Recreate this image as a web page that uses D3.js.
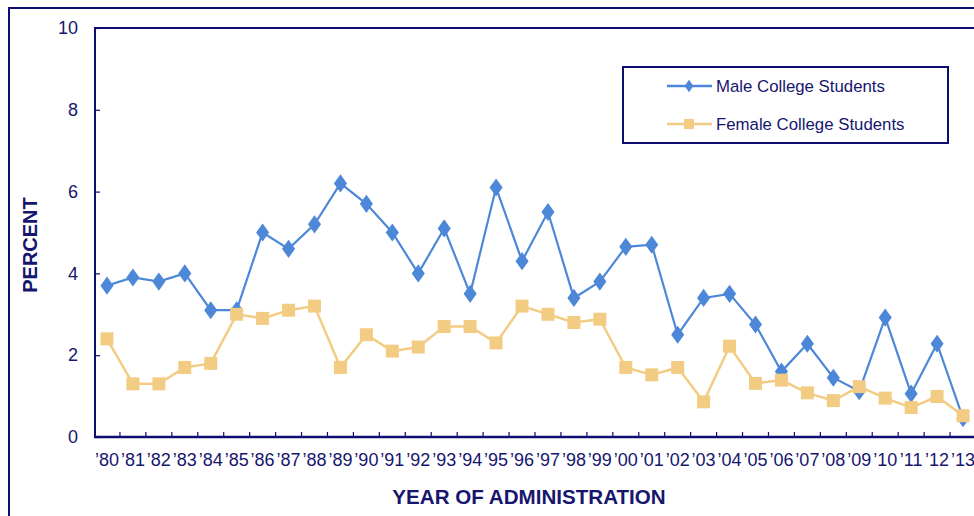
<!DOCTYPE html>
<html>
<head>
<meta charset="utf-8">
<script src="https://cdn.jsdelivr.net/npm/d3@7"></script>
<style>
  html, body { margin: 0; padding: 0; background: #fff; overflow: hidden; }
  svg { display: block; font-family: "Liberation Sans", Arial, sans-serif; }
</style>
</head>
<body>
<svg id="chart" width="974" height="516"></svg>
<script>
const years = ["’80","’81","’82","’83","’84","’85","’86","’87","’88","’89","’90","’91","’92","’93","’94","’95","’96","’97","’98","’99","’00","’01","’02","’03","’04","’05","’06","’07","’08","’09","’10","’11","’12","’13"];
const maleValues = [3.7,3.9,3.8,4.0,3.1,3.1,5.0,4.6,5.2,6.2,5.7,5.0,4.0,5.1,3.5,6.1,4.3,5.5,3.4,3.8,4.65,4.7,2.5,3.4,3.5,2.75,1.6,2.28,1.45,1.12,2.92,1.06,2.28,0.46];
const femaleValues = [2.4,1.3,1.3,1.7,1.8,3.0,2.9,3.1,3.2,1.7,2.5,2.1,2.2,2.7,2.7,2.3,3.2,3.0,2.8,2.88,1.7,1.52,1.7,0.86,2.22,1.31,1.39,1.08,0.89,1.23,0.95,0.72,0.99,0.52];
const yTicks = [0,2,4,6,8,10];
const seriesNames = ["Male College Students","Female College Students"];

const navy = "#0c0c72";
const textNavy = "#16166e";
const maleColor = "#4d88d8";
const femaleColor = "#f3cc84";

const svg = d3.select("#chart");
const pLeft = 95, pTop = 28, pBottom = 437, pRight = 976;

// outer frame
svg.append("rect").attr("x", 9).attr("y", 8).attr("width", 1000).attr("height", 600)
  .attr("fill", "none").attr("stroke", navy).attr("stroke-width", 2);

const x = d3.scaleBand().domain(years).range([pLeft - 1, pRight]).paddingInner(0).paddingOuter(0);
const xc = d => x(d) + x.bandwidth() / 2;
const y = d3.scaleLinear().domain([0, 10]).range([pBottom, pTop]);

// plot frame (top + left)
svg.append("rect").attr("x", pLeft).attr("y", pTop).attr("width", 1000).attr("height", pBottom - pTop)
  .attr("fill", "none").attr("stroke", navy).attr("stroke-width", 2);

// y axis
const yAxis = svg.append("g").attr("transform", `translate(${pLeft},0)`)
  .call(d3.axisLeft(y).tickValues(yTicks).tickSizeInner(-5).tickSizeOuter(0).tickPadding(17).tickFormat(d3.format("d")));
yAxis.select(".domain").remove();
yAxis.selectAll("line").attr("stroke", navy).attr("stroke-width", 1.2);
yAxis.selectAll("text").attr("fill", textNavy).style("font-size", "18px").attr("font-family", "Liberation Sans, Arial, sans-serif");

// x axis labels
const xAxis = svg.append("g").attr("transform", `translate(0,${pBottom})`)
  .call(d3.axisBottom(x).tickSize(0).tickPadding(16));
xAxis.select(".domain").remove();
xAxis.selectAll("text").attr("fill", textNavy).style("font-size", "18px").attr("font-family", "Liberation Sans, Arial, sans-serif");

// x ticks at category boundaries (pointing up)
svg.append("g").selectAll("line").data(years.slice(1)).join("line")
  .attr("x1", d => x(d)).attr("x2", d => x(d))
  .attr("y1", pBottom).attr("y2", pBottom - 5)
  .attr("stroke", navy).attr("stroke-width", 1.2);

// bottom axis line
svg.append("line").attr("x1", pLeft - 1).attr("x2", 1000).attr("y1", pBottom).attr("y2", pBottom)
  .attr("stroke", navy).attr("stroke-width", 2.5);

// lines
const line = d3.line().x((d, i) => xc(years[i])).y(d => y(d));

// male series (drawn first)
svg.append("path").datum(maleValues).attr("d", line)
  .attr("fill", "none").attr("stroke", maleColor).attr("stroke-width", 2.2);
const dm = d3.symbol().type(d3.symbolDiamond).size(95);
svg.append("g").selectAll("path").data(maleValues).join("path")
  .attr("d", dm).attr("transform", (d, i) => `translate(${xc(years[i])},${y(d)}) scale(1.25,1)`)
  .attr("fill", maleColor);

// female series (on top)
svg.append("path").datum(femaleValues).attr("d", line)
  .attr("fill", "none").attr("stroke", femaleColor).attr("stroke-width", 2.5);
const sq = 13;
svg.append("g").selectAll("rect").data(femaleValues).join("rect")
  .attr("x", (d, i) => xc(years[i]) - sq / 2).attr("y", d => y(d) - sq / 2)
  .attr("width", sq).attr("height", sq).attr("fill", femaleColor);

// legend
const lg = svg.append("g");
lg.append("rect").attr("x", 623).attr("y", 67).attr("width", 325).attr("height", 76)
  .attr("fill", "#fff").attr("stroke", navy).attr("stroke-width", 2);
const rows = [{name: seriesNames[0], color: maleColor, yy: 86, kind: "d"}, {name: seriesNames[1], color: femaleColor, yy: 124, kind: "s"}];
rows.forEach(r => {
  lg.append("line").attr("x1", 667).attr("x2", 712).attr("y1", r.yy).attr("y2", r.yy)
    .attr("stroke", r.color).attr("stroke-width", 2.5);
  if (r.kind === "d") {
    lg.append("path").attr("d", d3.symbol().type(d3.symbolDiamond).size(45)).attr("transform", `translate(689,${r.yy}) scale(1.2,1)`).attr("fill", r.color);
  } else {
    lg.append("rect").attr("x", 689 - 5).attr("y", r.yy - 5).attr("width", 10).attr("height", 10).attr("fill", r.color);
  }
  lg.append("text").attr("x", 716).attr("y", r.yy).attr("dy", "0.35em")
    .attr("fill", textNavy).style("font-size", "16.8px").text(r.name);
});

// axis titles
svg.append("text").attr("x", 529).attr("y", 497).attr("dy", "0.35em").attr("text-anchor", "middle")
  .attr("fill", textNavy).style("font-size", "20.6px").style("font-weight", "bold").text("YEAR OF ADMINISTRATION");
svg.append("text").attr("transform", "translate(30,245) rotate(-90)").attr("dy", "0.35em").attr("text-anchor", "middle")
  .attr("fill", textNavy).style("font-size", "20px").style("font-weight", "bold").text("PERCENT");
</script>
</body>
</html>
